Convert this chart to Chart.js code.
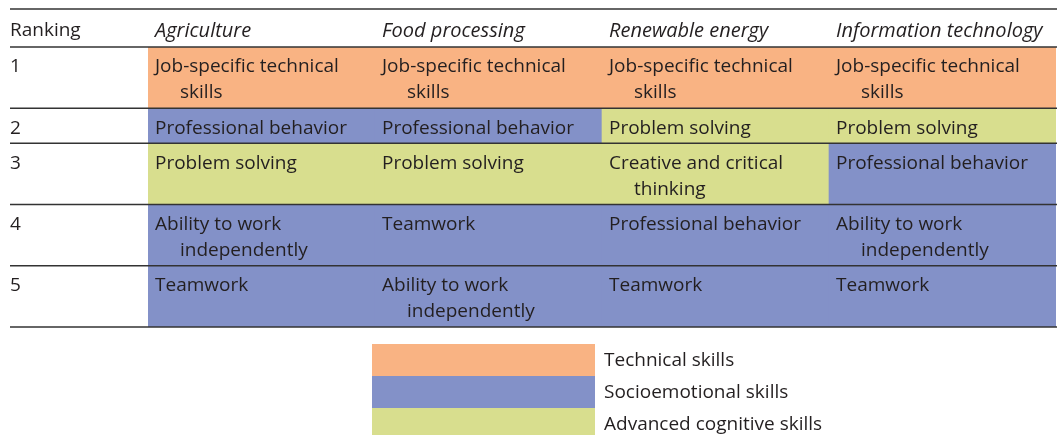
<!DOCTYPE html>
<html>
<head>
<meta charset="utf-8">
<script src="https://cdn.jsdelivr.net/npm/chart.js@4.4.0/dist/chart.umd.min.js"></script>
<style>
  html, body { margin: 0; padding: 0; background: #ffffff; }
  #wrap { width: 1057px; height: 435px; position: relative; }
</style>
</head>
<body>
<div id="wrap"><canvas id="grafico"></canvas></div>
<script>
// righe (ranking) e colonne (settori)
var ranks = ['1', '2', '3', '4', '5'];
var sectors = ['Agriculture', 'Food processing', 'Renewable energy', 'Information technology'];

// competenze per ogni ranking, una voce per settore ("\n" = a capo come nel riferimento)
var skillsRank1 = ['Job-specific technical\nskills', 'Job-specific technical\nskills', 'Job-specific technical\nskills', 'Job-specific technical\nskills'];
var skillsRank2 = ['Professional behavior', 'Professional behavior', 'Problem solving', 'Problem solving'];
var skillsRank3 = ['Problem solving', 'Problem solving', 'Creative and critical\nthinking', 'Professional behavior'];
var skillsRank4 = ['Ability to work\nindependently', 'Teamwork', 'Professional behavior', 'Ability to work\nindependently'];
var skillsRank5 = ['Teamwork', 'Ability to work\nindependently', 'Teamwork', 'Teamwork'];

// tipo di competenza: 0 = tecnica, 1 = socio-emotiva, 2 = cognitiva avanzata
var groupRank1 = [0, 0, 0, 0];
var groupRank2 = [1, 1, 2, 2];
var groupRank3 = [2, 2, 2, 1];
var groupRank4 = [1, 1, 1, 1];
var groupRank5 = [1, 1, 1, 1];

var groupNames = ['Technical skills', 'Socioemotional skills', 'Advanced cognitive skills'];
var groupColors = ['#F9B383', '#8391C8', '#D8DE8E'];

var skills = [skillsRank1, skillsRank2, skillsRank3, skillsRank4, skillsRank5];
var groups = [groupRank1, groupRank2, groupRank3, groupRank4, groupRank5];

var FONT = '19px "Open Sans", "Noto Sans", sans-serif';
var FONT_IT = 'italic 20px "Open Sans", "Noto Sans", sans-serif';
var TXT = '#231F20';

// altezza di ogni riga in "unità riga" = numero massimo di righe di testo + margine
var rowTop = [];
var rowBottom = [];
var acc = 0;
for (var r = 0; r < ranks.length; r++) {
    var maxLines = 1;
    for (var c = 0; c < sectors.length; c++) {
        var n = skills[r][c].split('\n').length;
        if (n > maxLines) maxLines = n;
    }
    rowTop.push(acc);
    acc += maxLines + 0.35;
    rowBottom.push(acc);
}
var totalUnits = acc;

// un dataset per riga: barre fluttuanti [inizio, fine] = una cella
var datasets = [];
for (var r = 0; r < ranks.length; r++) {
    var data = [];
    var colors = [];
    for (var c = 0; c < sectors.length; c++) {
        data.push([rowTop[r], rowBottom[r]]);
        colors.push(groupColors[groups[r][c]]);
    }
    datasets.push({
        label: 'Rank ' + ranks[r],
        data: data,
        backgroundColor: colors,
        borderWidth: 0,
        categoryPercentage: 1,
        barPercentage: 1
    });
}

var tablePlugin = {
    id: 'tablePlugin',
    afterDatasetsDraw: function(chart) {
        var ctx = chart.ctx;
        var x = chart.scales.x;
        var y = chart.scales.y;
        var area = chart.chartArea;
        var colW = x.getPixelForValue(1) - x.getPixelForValue(0);
        function colStart(i) { return x.getPixelForValue(i) - colW / 2; }

        ctx.save();
        ctx.fillStyle = TXT;
        ctx.textBaseline = 'middle';
        ctx.textAlign = 'left';

        // intestazione
        var headTop = area.top - 38;
        var headMid = area.top - 16;
        ctx.font = FONT;
        ctx.fillText('Ranking', 10, headMid);
        ctx.font = FONT_IT;
        for (var c = 0; c < sectors.length; c++) {
            ctx.fillText(sectors[c], colStart(c) + 7, headMid);
        }

        // testo delle celle
        ctx.font = FONT;
        for (var r = 0; r < ranks.length; r++) {
            var top = y.getPixelForValue(rowTop[r]);
            ctx.fillText(ranks[r], 10, top + 20);
            for (var c = 0; c < sectors.length; c++) {
                var lines = skills[r][c].split('\n');
                for (var l = 0; l < lines.length; l++) {
                    var indent = l > 0 ? 25 : 0;
                    ctx.fillText(lines[l], colStart(c) + 7 + indent, top + 20 + l * 26);
                }
            }
        }

        // linee orizzontali
        ctx.strokeStyle = '#333333';
        ctx.lineWidth = 1.5;
        var ys = [headTop, area.top];
        for (var r = 0; r < ranks.length; r++) ys.push(y.getPixelForValue(rowBottom[r]));
        for (var i = 0; i < ys.length; i++) {
            ctx.beginPath();
            ctx.moveTo(10, ys[i]);
            ctx.lineTo(chart.width, ys[i]);
            ctx.stroke();
        }

        // legenda
        var lx = colStart(1) - 3;
        var ly = area.bottom + 17;
        ctx.font = FONT;
        for (var g = 0; g < groupNames.length; g++) {
            ctx.fillStyle = groupColors[g];
            ctx.fillRect(lx, ly + g * 32, colW - 4, 32);
            ctx.fillStyle = TXT;
            ctx.fillText(groupNames[g], lx + colW + 5, ly + g * 32 + 17);
        }
        ctx.restore();
    }
};

var ctx = document.getElementById('grafico');
var chart = new Chart(ctx, {
    type: 'bar',
    data: {
        labels: sectors,
        datasets: datasets
    },
    options: {
        responsive: true,
        maintainAspectRatio: false,
        animation: false,
        layout: { padding: { left: 148, right: 1, top: 47, bottom: 108 } },
        datasets: { bar: { grouped: false } },
        scales: {
            x: { display: false, offset: true },
            y: { display: false, min: 0, max: totalUnits, reverse: true }
        },
        plugins: {
            legend: { display: false },
            tooltip: { enabled: false }
        }
    },
    plugins: [tablePlugin]
});
</script>
</body>
</html>
